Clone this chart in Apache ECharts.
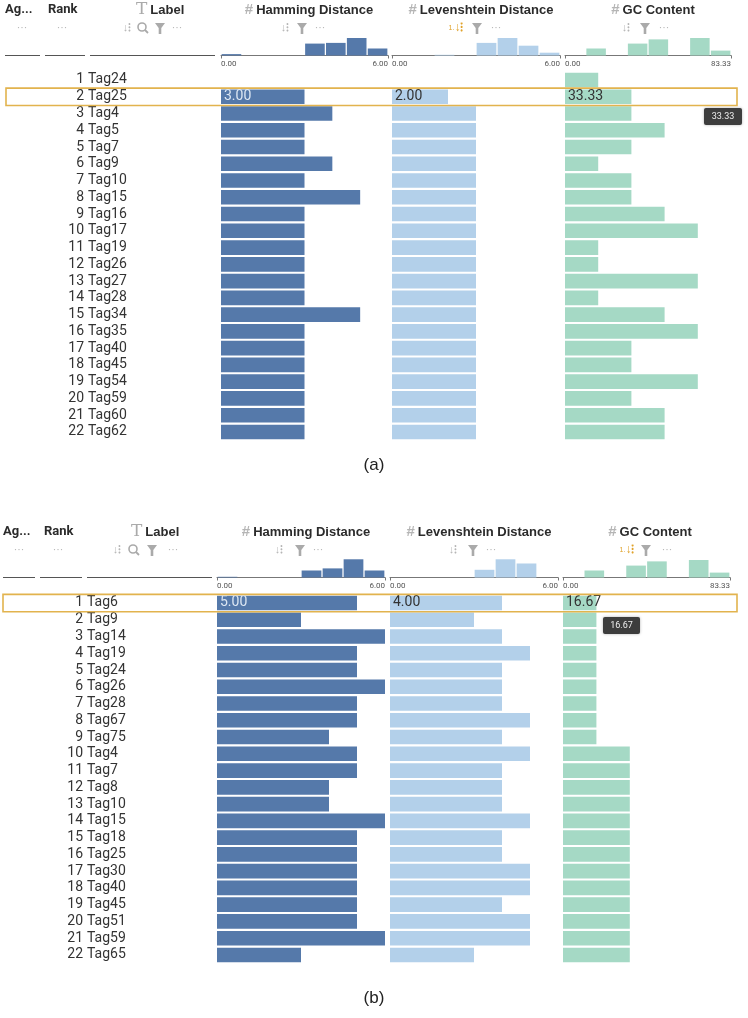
<!DOCTYPE html>
<html>
<head>
<meta charset="utf-8">
<script src="https://cdn.jsdelivr.net/npm/echarts@6/dist/echarts.min.js"></script>
<style>
  html, body { margin: 0; background: #fff; }
  #chart { width: 748px; height: 1018px; }
</style>
</head>
<body>
<div id="chart"></div>
<script>
// (a) sorted by Levenshtein distance
const tagsA = ['Tag24', 'Tag25', 'Tag4', 'Tag5', 'Tag7', 'Tag9', 'Tag10', 'Tag15', 'Tag16', 'Tag17', 'Tag19',
  'Tag26', 'Tag27', 'Tag28', 'Tag34', 'Tag35', 'Tag40', 'Tag45', 'Tag54', 'Tag59', 'Tag60', 'Tag62'];
const hammingA = [0, 3, 4, 3, 3, 4, 3, 5, 3, 3, 3, 3, 3, 3, 5, 3, 3, 3, 3, 3, 3, 3];
const levA = [0, 2, 3, 3, 3, 3, 3, 3, 3, 3, 3, 3, 3, 3, 3, 3, 3, 3, 3, 3, 3, 3];
const gcA = [16.67, 33.33, 33.33, 50, 33.33, 16.67, 33.33, 33.33, 50, 66.67, 16.67,
  16.67, 66.67, 16.67, 50, 66.67, 33.33, 33.33, 66.67, 33.33, 50, 50];

// (b) sorted by GC content
const tagsB = ['Tag6', 'Tag9', 'Tag14', 'Tag19', 'Tag24', 'Tag26', 'Tag28', 'Tag67', 'Tag75', 'Tag4', 'Tag7',
  'Tag8', 'Tag10', 'Tag15', 'Tag18', 'Tag25', 'Tag30', 'Tag40', 'Tag45', 'Tag51', 'Tag59', 'Tag65'];
const hammingB = [5, 3, 6, 5, 5, 6, 5, 5, 4, 5, 5, 4, 4, 6, 5, 5, 5, 5, 5, 5, 6, 3];
const levB = [4, 3, 4, 5, 4, 4, 4, 5, 4, 5, 4, 4, 4, 5, 4, 4, 5, 5, 4, 5, 5, 3];
const gcB = [16.67, 16.67, 16.67, 16.67, 16.67, 16.67, 16.67, 16.67, 16.67, 33.33, 33.33,
  33.33, 33.33, 33.33, 33.33, 33.33, 33.33, 33.33, 33.33, 33.33, 33.33, 33.33];

// column summary histograms, 8 bins each (counts)
const histHamA = [2, 0, 0, 0, 17, 18, 25, 10];
const histLevA = [0, 0, 1, 0, 18, 25, 14, 4];
const histGcA = [0, 10, 0, 17, 23, 0, 25, 7];
const histHamB = [1, 0, 0, 0, 10, 13, 26, 10];
const histLevB = [0, 0, 0, 0, 11, 26, 20, 0];
const histGcB = [0, 10, 0, 17, 23, 0, 25, 7];

const axisMax = [6, 6, 83.33];
const colors = ['#5579aa', '#b3d0ea', '#a5d9c5'];
const FONT = 'Roboto, sans-serif';

const chart = echarts.init(document.getElementById('chart'));

const grid = [], xAxis = [], yAxis = [], series = [], graphic = [];

function panel(p) {
  const values = [p.ham, p.lev, p.gc];
  const hists = [p.hHam, p.hLev, p.hGc];
  p.cols.forEach((c, k) => {
    // rows
    const gi = grid.length;
    grid.push({ left: c.x, width: c.w, top: p.rowTop, height: 22 * 16.76 });
    xAxis.push({ type: 'value', gridIndex: gi, min: 0, max: axisMax[k], show: false });
    // the Hamming column carries the tag labels, the Levenshtein column the rank numbers
    let lbl = { show: false };
    if (k === 0) lbl = { show: true, interval: 0, align: 'left', margin: c.x - p.tagX, fontSize: 14, color: '#333', fontFamily: FONT };
    if (k === 1) lbl = { show: true, interval: 0, align: 'right', margin: c.x - p.rankRight, fontSize: 14, color: '#333', fontFamily: FONT,
      formatter: (v, i) => String(i + 1) };
    yAxis.push({
      type: 'category', gridIndex: gi, inverse: true, data: p.tags,
      axisLine: { show: false }, axisTick: { show: false }, axisLabel: lbl
    });
    series.push({
      type: 'bar', xAxisIndex: xAxis.length - 1, yAxisIndex: yAxis.length - 1,
      barWidth: 14.6, silent: true, animation: false,
      itemStyle: { color: colors[k] },
      data: values[k].map((v, i) => i === p.sel ? {
        value: v,
        label: {
          show: true, position: 'insideLeft', distance: 3, fontSize: 14, fontFamily: FONT,
          color: k === 0 ? '#dde7f3' : '#333',
          formatter: d => d.value.toFixed(2)
        }
      } : v)
    });

    // histogram
    const hi = grid.length;
    grid.push({ left: c.x, width: c.w, top: p.histTop, height: 18.5 });
    xAxis.push({ type: 'category', gridIndex: hi, position: 'top', data: hists[k].map((_, i) => i), show: false });
    xAxis.push({
      type: 'value', gridIndex: hi, position: 'bottom', min: 0, max: axisMax[k], interval: axisMax[k],
      axisLine: { show: true, lineStyle: { color: '#777', width: 1 } },
      axisTick: { show: true, length: 3, lineStyle: { color: '#777' } },
      splitLine: { show: false },
      axisLabel: {
        fontSize: 8, color: '#555', margin: 4, fontFamily: FONT,
        alignMinLabel: 'left', alignMaxLabel: 'right',
        formatter: v => v.toFixed(2)
      }
    });
    yAxis.push({ type: 'value', gridIndex: hi, min: 0, max: 26.4, show: false });
    series.push({
      type: 'bar', xAxisIndex: xAxis.length - 2, yAxisIndex: yAxis.length - 1,
      barCategoryGap: '6%', silent: true, animation: false,
      itemStyle: { color: colors[k] }, data: hists[k]
    });
  });

  // header
  const hy = p.headY, iy = p.iconY;
  const txt = (x, y, s, style) => graphic.push({
    type: 'text', x, y, silent: true,
    style: Object.assign({ text: s, fontFamily: FONT, verticalAlign: 'middle' }, style)
  });
  const bold = { fontSize: 13, fontWeight: 'bold', fill: '#2b2b2b' };
  txt(p.agX, hy, 'Ag...', bold);
  txt(p.rankX, hy, 'Rank', bold);
  txt(p.labelX, hy, '{i|T}{b|Label}', {
    rich: { i: { fontSize: 17, fill: '#aaa', fontFamily: 'DejaVu Serif', padding: [0, 3, 0, 0] }, b: bold }
  });
  ['Hamming Distance', 'Levenshtein Distance', 'GC Content'].forEach((t, k) => {
    txt(p.titleX[k], hy, '{h|#} {b|' + t + '}', {
      align: 'center',
      rich: { h: { fontSize: 15, fontWeight: 'bold', fill: '#b5b5b5' }, b: bold }
    });
  });

  const dots = x => txt(x, iy, '• • •', { fontSize: 6, fill: '#b0b0b0', align: 'center' });
  const sort = (x, active) => txt(x, iy, active ? '{s|1.}{a|↓⁝}' : '↓⁝', active ? {
    align: 'center',
    rich: { s: { fontSize: 7, fill: '#e0a22a' }, a: { fontSize: 12, fill: '#e0a22a', fontWeight: 'bold' } }
  } : { fontSize: 11, fill: '#b5b5b5', align: 'center', fontWeight: 'bold' });
  const filter = x => graphic.push({
    type: 'polygon', silent: true,
    shape: { points: [[x - 5, iy - 5], [x + 5, iy - 5], [x + 1.3, iy], [x + 1.3, iy + 6], [x - 1.3, iy + 6], [x - 1.3, iy]] },
    style: { fill: '#aaa' }
  });
  const search = x => {
    graphic.push({ type: 'circle', silent: true, shape: { cx: x - 1, cy: iy - 1, r: 4 }, style: { fill: 'none', stroke: '#aaa', lineWidth: 1.6 } });
    graphic.push({ type: 'line', silent: true, shape: { x1: x + 2, y1: iy + 2, x2: x + 5, y2: iy + 5 }, style: { stroke: '#aaa', lineWidth: 1.8 } });
  };
  dots(p.icons.ag); dots(p.icons.rank);
  sort(p.icons.label[0], false); search(p.icons.label[1]); filter(p.icons.label[2]); dots(p.icons.label[3]);
  p.icons.cols.forEach((ic, k) => {
    sort(ic[0], p.sortCol === k); filter(ic[1]); dots(ic[2]);
  });

  p.lines.forEach(l => graphic.push({
    type: 'line', silent: true,
    shape: { x1: l[0], y1: p.histTop + 18.5, x2: l[1], y2: p.histTop + 18.5 },
    style: { stroke: '#555', lineWidth: 1 }
  }));

  // highlighted row
  const rowY = p.rowTop + p.sel * 16.76;
  graphic.push({
    type: 'rect', silent: true, z: 100,
    shape: { x: p.box[0], y: rowY - 0.2, width: p.box[1] - p.box[0], height: 17.4 },
    style: { fill: 'none', stroke: '#e2b34e', lineWidth: 1.6 }
  });
  graphic.push({
    type: 'group', x: p.tip[0], y: p.tip[1], z: 101, silent: true,
    children: [
      { type: 'rect', shape: { x: 0, y: 0, width: p.tip[2], height: 17, r: 2 }, style: { fill: '#3d3d3d', shadowBlur: 3, shadowColor: 'rgba(0,0,0,0.3)' } },
      { type: 'text', x: p.tip[2] / 2, y: 8.5, style: { text: p.gc[p.sel].toFixed(2), fill: '#eee', fontSize: 9, fontFamily: FONT, align: 'center', verticalAlign: 'middle' } }
    ]
  });
  txt(374, p.capY, p.cap, { fontSize: 17, fill: '#222', align: 'center', fontFamily: 'Liberation Sans, Arial, sans-serif' });
}

panel({
  tags: tagsA, ham: hammingA, lev: levA, gc: gcA, hHam: histHamA, hLev: histLevA, hGc: histGcA,
  sel: 1, sortCol: 1, rowTop: 71.6, histTop: 37, tagX: 88, rankRight: 84,
  cols: [{ x: 221, w: 167 }, { x: 392, w: 168 }, { x: 565, w: 166 }],
  headY: 10, iconY: 28, agX: 5, rankX: 48, labelX: 136, titleX: [309, 481, 653],
  icons: { ag: 22, rank: 62, label: [127, 143, 160, 177], cols: [[285, 302, 320], [456, 477, 496], [626, 645, 664]] },
  lines: [[5, 40], [45, 85], [90, 215]],
  box: [6, 737], tip: [704, 108, 38], capY: 465, cap: '(a)'
});

panel({
  tags: tagsB, ham: hammingB, lev: levB, gc: gcB, hHam: histHamB, hLev: histLevB, hGc: histGcB,
  sel: 0, sortCol: 2, rowTop: 594.6, histTop: 559, tagX: 87, rankRight: 83,
  cols: [{ x: 217, w: 168 }, { x: 390, w: 168 }, { x: 563, w: 167 }],
  headY: 532, iconY: 550, agX: 3, rankX: 44, labelX: 131, titleX: [306, 479, 650],
  icons: { ag: 19, rank: 58, label: [117, 134, 152, 173], cols: [[279, 300, 318], [453, 473, 491], [627, 646, 667]] },
  lines: [[3, 35], [40, 82], [87, 212]],
  box: [3, 737], tip: [603, 617, 37], capY: 998, cap: '(b)'
});

chart.setOption({
  animation: false,
  backgroundColor: '#fff',
  textStyle: { fontFamily: FONT },
  grid, xAxis, yAxis, series, graphic
});
</script>
</body>
</html>
